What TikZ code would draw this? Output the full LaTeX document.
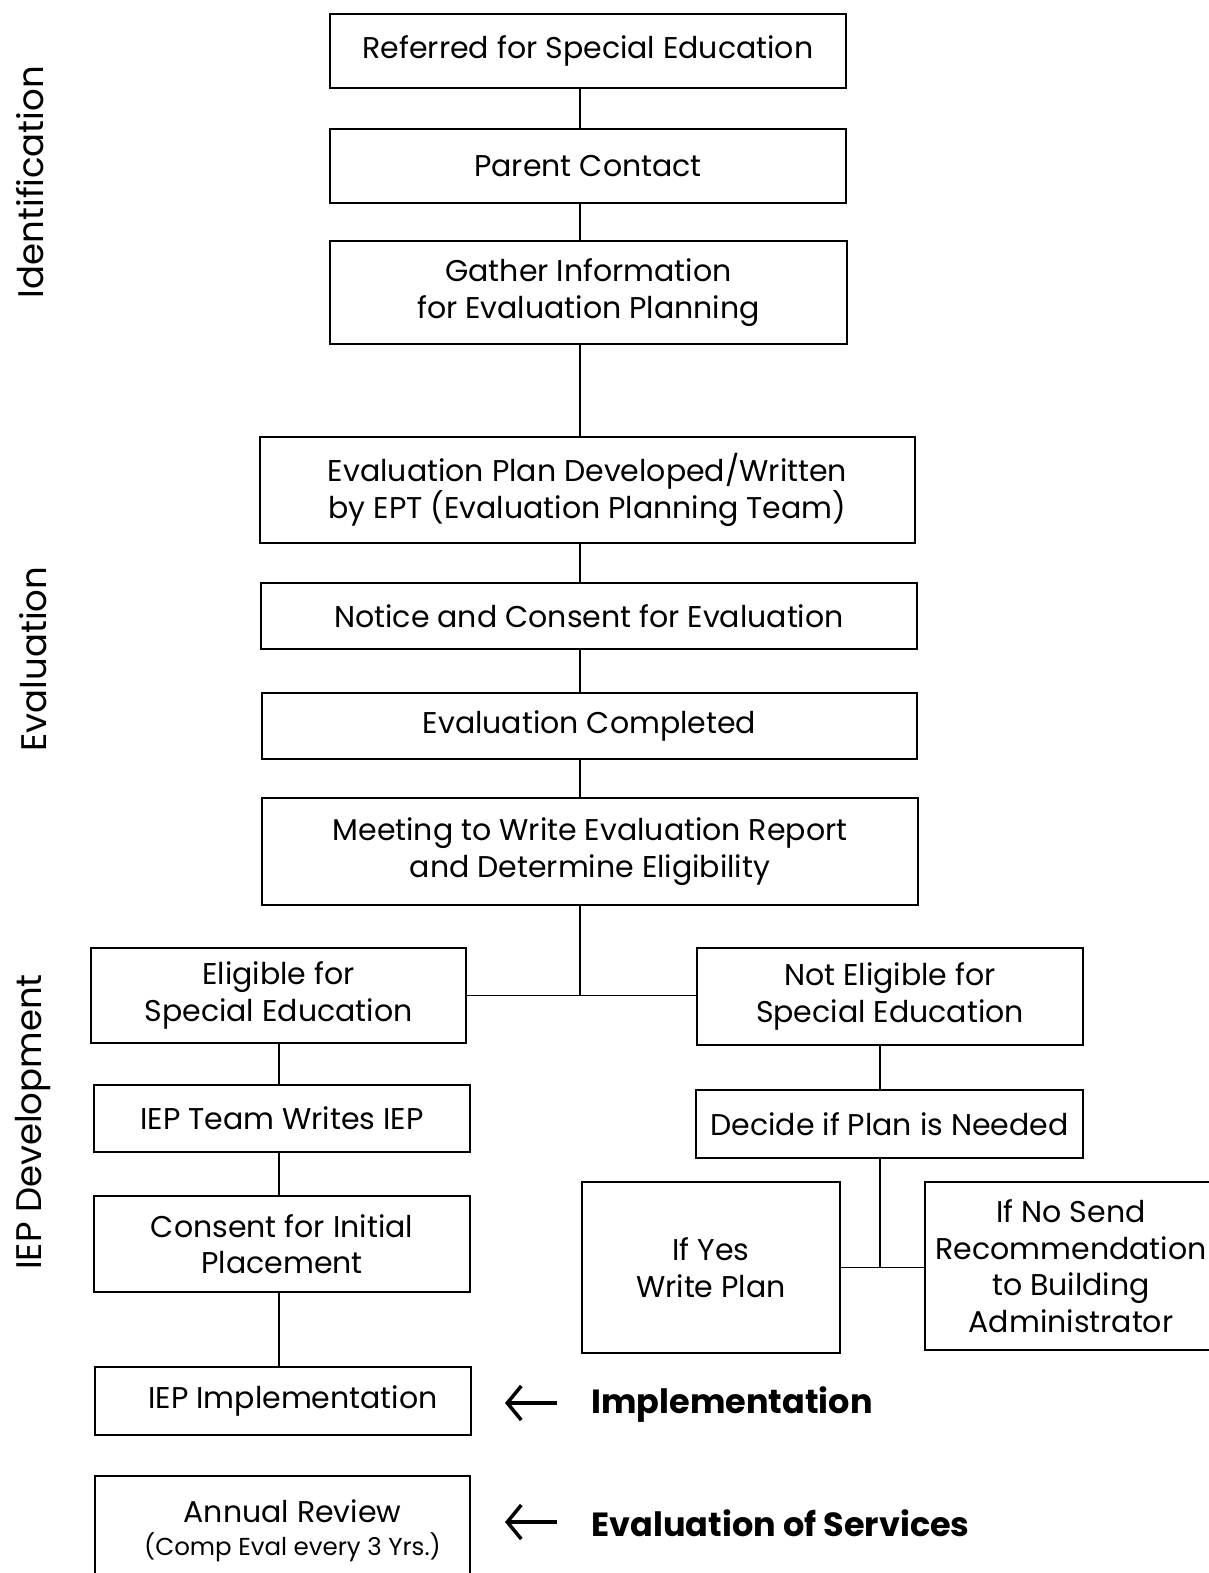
\documentclass[tikz,border=0pt]{standalone}
\usepackage{fontspec}
\setmainfont{Poppins}
\usepackage{tikz}
\usetikzlibrary{arrows.meta}

\tikzset{
  box/.style={draw,line width=1.6pt,inner sep=0pt,align=center,
    font=\fontsize{30}{36.5}\selectfont},
  link/.style={line width=1.8pt},
  side/.style={rotate=90,font=\fontsize{35.5}{40}\selectfont},
  phase/.style={anchor=west,font=\fontsize{33.5}{38}\selectfont\bfseries},
  bigarrow/.style={line width=4pt,-{Straight Barb[length=14pt,width=34pt,line width=3.5pt]}}
}

\begin{document}
\begin{tikzpicture}[x=1pt,y=-1pt]
\useasboundingbox (0,0) rectangle (1209,1573);
\clip (0,0) rectangle (1209,1573);
% spines of the connectors
\coordinate (spine) at (580,0);
\coordinate (lspine) at (279,0);
\coordinate (rspine) at (880,0);
% phase names down the left side
\node[side] (ident) at (30,182) {Identification};
\node[side] (evalu) at (33,659) {Evaluation};
\node[side] (iepdev) at (33,1122) {IEP Development};
% main column
\node[box,minimum width=516pt,minimum height=74pt] (ref) at (588,51) {Referred for Special Education};
\node[box,minimum width=516pt,minimum height=74pt] (parent) at (588,166) {Parent Contact};
\node[box,minimum width=517pt,minimum height=103pt] (gather) at (588.5,292.5) {Gather Information\\for Evaluation Planning};
\node[box,minimum width=655pt,minimum height=106pt] (evplan) at (587.5,490) {Evaluation Plan Developed/Written\\by EPT (Evaluation Planning Team)};
\node[box,minimum width=656pt,minimum height=66pt] (notice) at (589,616) {Notice and Consent for Evaluation};
\node[box,minimum width=655pt,minimum height=66pt] (evdone) at (589.5,726) {Evaluation Completed};
\node[box,minimum width=656pt,minimum height=107pt] (meeting) at (590,851.5) {Meeting to Write Evaluation Report\\and Determine Eligibility};
% eligible branch
\node[box,minimum width=375pt,minimum height=95pt] (elig) at (278.5,995.5) {Eligible for\\Special Education};
\node[box,minimum width=376pt,minimum height=67pt] (iepteam) at (282,1118.5) {IEP Team Writes IEP};
\node[box,minimum width=376pt,minimum height=96pt] (consent) at (282,1244) {Consent for Initial\\Placement};
\node[box,minimum width=376pt,minimum height=68pt] (iepimpl) at (283,1401) {\hspace*{20pt}IEP Implementation};
\node[box,minimum width=375pt,minimum height=120pt] (annual) at (282.5,1536) {\hspace*{20pt}Annual Review\\[-3pt]{\fontsize{24.5}{30}\selectfont\hspace*{20pt}(Comp Eval every 3 Yrs.)}\\[-20pt]};
% not eligible branch
\node[box,minimum width=386pt,minimum height=97pt] (notelig) at (890,996.5) {Not Eligible for\\Special Education};
\node[box,minimum width=387pt,minimum height=68pt] (decide) at (889.5,1124) {Decide if Plan is Needed};
\node[box,minimum width=258pt,minimum height=171pt] (ifyes) at (711,1267.5) {If Yes\\Write Plan};
\node[box,minimum width=292pt,minimum height=168pt] (ifno) at (1071,1266) {If No Send\\Recommendation\\to Building\\Administrator};
% phases at the bottom
\node[phase] (implab) at (588,1405) {Implementation};
\node[phase] (servlab) at (588,1523) {Evaluation of Services};
\coordinate (implarr) at (557,1403);
\coordinate (servarr) at (557,1522);
\draw[bigarrow] (implarr) -- ++(-52,0);
\draw[bigarrow] (servarr) -- ++(-52,0);
% connectors
\draw[link] (ref.south -| spine) -- (parent.north -| spine);
\draw[link] (parent.south -| spine) -- (gather.north -| spine);
\draw[link] (gather.south -| spine) -- (evplan.north -| spine);
\draw[link] (evplan.south -| spine) -- (notice.north -| spine);
\draw[link] (notice.south -| spine) -- (evdone.north -| spine);
\draw[link] (evdone.south -| spine) -- (meeting.north -| spine);
\draw[link] (meeting.south -| spine) -- (spine |- elig.east);
\draw[link] (elig.east) -- (elig.east -| notelig.west);
\draw[link] (elig.south -| lspine) -- (iepteam.north -| lspine);
\draw[link] (iepteam.south -| lspine) -- (consent.north -| lspine);
\draw[link] (consent.south -| lspine) -- (iepimpl.north -| lspine);
\draw[link] (notelig.south -| rspine) -- (decide.north -| rspine);
\draw[link] (decide.south -| rspine) -- (rspine |- ifyes.east);
\draw[link] (ifyes.east) -- (ifyes.east -| ifno.west);
\end{tikzpicture}
\end{document}
